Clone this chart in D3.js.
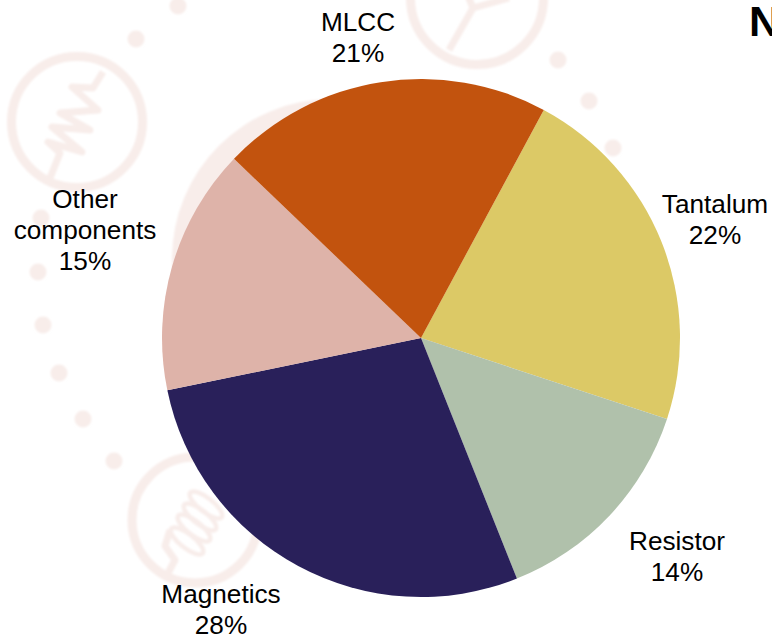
<!DOCTYPE html>
<html>
<head>
  <meta charset="utf-8">
  <script src="https://d3js.org/d3.v7.min.js"></script>
  <style>
    html, body { margin: 0; padding: 0; background: #fff; overflow: hidden; }
    svg { display: block; font-family: "Liberation Sans", Arial, sans-serif; }
  </style>
</head>
<body>
  <div id="chart"></div>

  <script>
// data, clockwise from the top right slice
const categories = ["Tantalum", "Resistor", "Magnetics", "Other components", "MLCC"];
const shares = [22.2, 13.9, 27.8, 15.4, 20.7];
const shareLabels = ["22%", "14%", "28%", "15%", "21%"];
const sliceColors = ["#DCC966", "#B0C1AB", "#29205A", "#DEB3A9", "#C2530E"];

const width = 772, height = 637;
const cx = 421, cy = 338, radius = 259;
const startAngle = 28.3 * Math.PI / 180;
const fontSize = 26.2;
const lineHeight = 31;
const faint = "#F8EDEA";

// label centre x and first baseline, same order as categories
const labelLayout = [[715, 213], [677, 550], [221, 603], [85, 208], [358, 31]];

const svg = d3.select("#chart")
  .append("svg")
  .attr("width", width)
  .attr("height", height);

svg.append("defs")
  .append("filter")
  .attr("id", "soft")
  .append("feGaussianBlur")
  .attr("stdDeviation", 0.8);

// faded background artwork
const bg = svg.append("g").attr("filter", "url(#soft)");

bg.append("circle").attr("cx", 332).attr("cy", 259).attr("r", 160).attr("fill", faint);

const dots = [[178, 6], [136, 39], [558, 60], [589, 101], [613, 148], [41, 218], [38, 272],
  [43, 325], [59, 373], [83, 419], [114, 461]];
bg.selectAll(".dot")
  .data(dots)
  .enter()
  .append("circle")
  .attr("class", "dot")
  .attr("cx", d => d[0])
  .attr("cy", d => d[1])
  .attr("r", 8.5)
  .attr("fill", faint);

const rings = [[77, 122, 65.5], [477, -2, 66.5], [195, 520, 63]];
bg.selectAll(".ring")
  .data(rings)
  .enter()
  .append("circle")
  .attr("class", "ring")
  .attr("cx", d => d[0])
  .attr("cy", d => d[1])
  .attr("r", d => d[2])
  .attr("fill", "none")
  .attr("stroke", faint)
  .attr("stroke-width", 9);

const line = d3.line();
const wires = [
  [[50, 178], [60, 153], [48, 142], [82, 152], [52, 127], [90, 130], [60, 113], [98, 110], [72, 87], [93, 88], [103, 72]],
  [[449, 50], [473, 8], [509, -2]],
  [[473, 8], [468, -4]],
  [[167, 575], [175, 560], [165, 546], [170, 530]]
];
bg.selectAll(".wire")
  .data(wires)
  .enter()
  .append("path")
  .attr("class", "wire")
  .attr("d", d => line(d))
  .attr("fill", "none")
  .attr("stroke", faint)
  .attr("stroke-width", 7)
  .attr("stroke-linejoin", "round");

const coils = [[187, 541], [194, 528], [200, 517], [206, 505]];
bg.selectAll(".coil")
  .data(coils)
  .enter()
  .append("ellipse")
  .attr("class", "coil")
  .attr("rx", 20)
  .attr("ry", 7)
  .attr("transform", d => `translate(${d[0]}, ${d[1]})rotate(38)`)
  .attr("fill", "none")
  .attr("stroke", faint)
  .attr("stroke-width", 4.5);

// pie
const pie = d3.pie()
  .sort(null)
  .startAngle(startAngle)
  .endAngle(startAngle + 2 * Math.PI);

const arc = d3.arc()
  .innerRadius(0)
  .outerRadius(radius);

svg.append("g")
  .attr("transform", `translate(${cx}, ${cy})`)
  .selectAll("path")
  .data(pie(shares))
  .enter()
  .append("path")
  .attr("d", arc)
  .attr("fill", (d, i) => sliceColors[i]);

// labels, "Other components" wraps over two lines
const labels = svg.append("g")
  .attr("font-size", fontSize)
  .attr("fill", "#000")
  .attr("text-anchor", "middle");

categories.forEach((name, i) => {
  const lines = (name === "Other components" ? ["Other", "components"] : [name]).concat(shareLabels[i]);
  lines.forEach((t, j) => {
    labels.append("text")
      .attr("x", labelLayout[i][0])
      .attr("y", labelLayout[i][1] + j * lineHeight)
      .text(t);
  });
});

// the title runs off the right edge, only its first letter shows
svg.append("text")
  .attr("x", 749)
  .attr("y", 36)
  .attr("font-size", 43)
  .attr("font-weight", "bold")
  .text("N");
  </script>
</body>
</html>
